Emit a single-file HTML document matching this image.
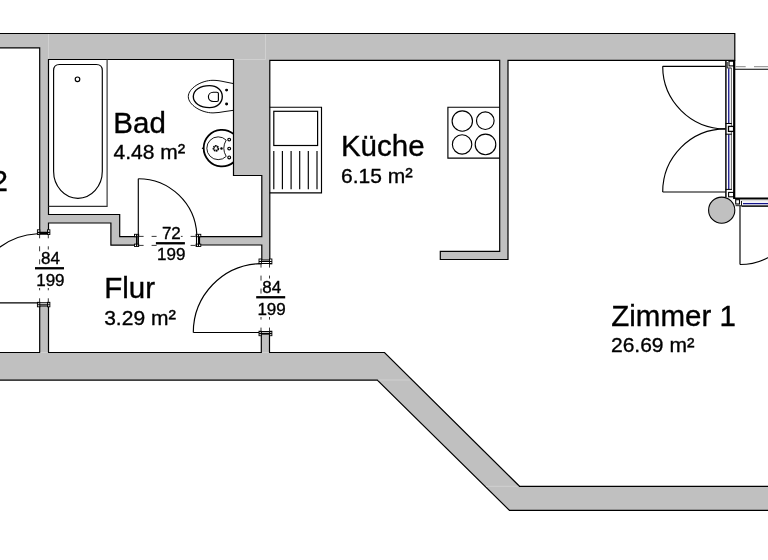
<!DOCTYPE html>
<html><head><meta charset="utf-8"><title>Grundriss</title>
<style>
html,body{margin:0;padding:0;background:#fff;}
body{width:768px;height:560px;overflow:hidden;}
svg{display:block;will-change:transform;}
text{font-family:"Liberation Sans",Arial,sans-serif;fill:#000;stroke:#000;stroke-width:0.35px;}
.w{fill:#c0c0c0;stroke:#000;stroke-width:1.2;stroke-linejoin:miter;}
.t{fill:none;stroke:#000;stroke-width:1.15;}
.k{fill:none;stroke:#000;stroke-width:1.35;}
.d{fill:none;stroke:#222;stroke-width:0.9;stroke-dasharray:5 8;}
.seam{stroke:#d4d4d4;stroke-width:0.8;fill:none;}
</style></head><body>
<svg width="768" height="560" viewBox="0 0 768 560">
<rect width="768" height="560" fill="#fff"/>

<!-- WALLS -->
<g class="w">
<!-- main outer + inner walls as one polygon set -->
<path d="M-5 33.5 H734.8 V60.3 H508 V259.5 H440.3 V251.4 H499.7 V60.3 H269.8 V260 H261.8 V245 H199.5 V236.7 H261.8 V175.5 H233.5 V59.5 H48.5 V214.5 H119.7 V236.7 H137 V245.2 H110.9 V223 H48.5 V233.5 H39.7 V47.8 H-5 Z"/>
<!-- bottom wall -->
<path d="M-5 352.5 H39.7 V306 H48.5 V352.5 H261.3 V334 H269.5 V352.5 H384.5 L519.5 486.3 H775 V510.4 H509.5 L377.3 380.1 H-5 Z"/>
</g>
<g class="seam">
<path d="M48.5 34 V59"/><path d="M265.5 34 V59.5 H235"/>
<path d="M378.5 380 H410"/><path d="M486 486.3 H518.5"/><path d="M262 352.5 H269"/><path d="M40.4 352.5 H48"/>
</g>

<!-- door jambs -->
<g fill="#fff" stroke="#000" stroke-width="0.9">
<rect x="259" y="259" width="2.4" height="4.9"/><rect x="269.5" y="259" width="2.4" height="4.9"/><path d="M259 261.5 H271.9 M259 263.5 H271.9" stroke-width="1.1"/>
<rect x="259" y="331.2" width="2.4" height="4.5"/><rect x="269.5" y="331.2" width="2.4" height="4.5"/><path d="M259 331.6 H271.9 M259 333.6 H271.9" stroke-width="1.1"/>
<rect x="37.4" y="229.8" width="2.4" height="4.7"/><rect x="47.5" y="229.8" width="2.4" height="4.7"/><path d="M37.4 232.4 H49.9 M37.4 234.2 H49.9" stroke-width="1.1"/>
<rect x="37.4" y="302.3" width="2.4" height="4.5"/><rect x="47.5" y="302.3" width="2.4" height="4.5"/><path d="M37.4 302.7 H49.9 M37.4 304.7 H49.9" stroke-width="1.1"/>
<rect x="134.5" y="234.3" width="4.2" height="2.4"/><rect x="134.5" y="244.1" width="4.2" height="2.4"/><path d="M136.6 234.3 V246.5 M138.4 234.3 V246.5" stroke-width="1.1"/>
<rect x="196.1" y="234.3" width="4.7" height="2.4"/><rect x="196.1" y="244.1" width="4.7" height="2.4"/><path d="M196.5 234.3 V246.5 M198.5 234.3 V246.5" stroke-width="1.1"/>
</g>

<!-- dashed opening lines -->
<g class="d">
<path d="M39.6 234.3 V302.5" stroke-dashoffset="1"/><path d="M48.3 234.3 V302.5" stroke-dashoffset="1"/>
<path d="M261 263.9 V331.5" stroke-dashoffset="1.3"/><path d="M269.5 263.9 V331.5" stroke-dashoffset="1.3"/>
<path d="M138.6 236.4 H196.4"/><path d="M138.6 245.4 H196.4"/>
</g>

<!-- door swings -->
<g class="t">
<path d="M37.5 302.8 H-5"/><path d="M37.4 233.8 A69 69 0 0 0 -28 302.7"/>
<path d="M259 332.5 H193.3"/><path d="M193.3 332.5 A69 69 0 0 1 259.5 263.6"/>
<path d="M138.3 236 V178.7"/><path d="M138.3 178.7 A58.6 58.6 0 0 1 196.8 234.6"/>
<path d="M725.5 66.3 H662.7"/><path d="M662.7 66.3 A62.8 62.6 0 0 0 725.5 128.9"/>
<path d="M725.5 192 H662.7"/><path d="M662.7 192 A62.8 63 0 0 1 725.5 128.9"/>
<path d="M740 206 V264.5"/><path d="M740 264.5 A58.5 58.5 0 0 0 798.5 206"/>
</g>

<!-- bathtub -->
<g class="t" stroke-width="0.8">
<path d="M48.5 206.3 H107.1 V59.5" stroke="#333"/>
<path d="M53.6 171.3 V70.5 Q53.6 64.5 59.6 64.5 H96.3 Q102.3 64.5 102.3 70.5 V171.3 A24.35 27 0 0 1 53.6 171.3 Z"/>
<circle cx="77.5" cy="79.3" r="2.3"/>
</g>

<!-- toilet -->
<g class="t">
<path stroke-width="0.95" d="M233.5 83.6 L225 81.9 C221 81 217 80.3 213 80.3 C201 80.3 188.3 88.5 188.3 96.6 C188.3 104.7 201 112.9 213 112.9 C217 112.9 221 112.2 225 111.5 L233.5 110.3"/>
<path class="k" d="M222.3 96.6 C222.3 103 217 107.6 209.5 107.6 C200 107.6 193.3 103 193.3 96.6 C193.3 90.2 200 85.6 209.5 85.6 C217 85.6 222.3 90.2 222.3 96.6 Z"/>
<path d="M218.4 93.6 V100 Q218.4 101.5 216.9 101.5 H213.2 C210.5 101.5 208.4 99.4 208.4 96.85 C208.4 94.3 210.5 92.2 213.2 92.2 H216.9 Q218.4 92.2 218.4 93.6 Z"/>
<circle cx="226.6" cy="90.1" r="0.9" fill="#000"/><circle cx="226.6" cy="104" r="0.9" fill="#000"/>
</g>

<!-- wash basin -->
<g class="t">
<path d="M233.5 133.9 A18.3 18.3 0 1 0 233.5 162.3" stroke-width="1.8"/>
<path d="M201.9 148.3 H203.3"/>
<path d="M226.2 140.1 A11.4 11.4 0 1 0 226.2 156.4 A16 16 0 0 1 226.2 140.1 Z" stroke-width="0.9"/>
<circle cx="215.9" cy="148.4" r="2.35" stroke-width="1.9" stroke-dasharray="1.4 0.45"/>
<circle cx="221.5" cy="148.4" r="0.7" fill="#000"/>
<circle cx="229.2" cy="139.6" r="1.4"/><circle cx="229.2" cy="148.6" r="1.4"/><circle cx="229.2" cy="157.4" r="1.4"/>
</g>

<!-- kitchen sink -->
<g class="t">
<path d="M269.8 107.2 H321.5 V192.9 H269.8"/>
<rect x="273.8" y="111.3" width="43.8" height="34.2" stroke-width="1.2"/>
<path d="M273.8 150.9 V189.3 M282.4 150.9 V189.3 M291.1 150.9 V189.3 M299.7 150.9 V189.3 M308.3 150.9 V189.3 M317 150.9 V189.3"/>
</g>

<!-- stove -->
<g class="t" stroke-width="1.1">
<path d="M499.7 107.2 H447.9 V158.1 H499.7"/>
<circle cx="462.3" cy="121" r="10.2"/><circle cx="485.3" cy="120.7" r="8.8"/>
<circle cx="462.1" cy="144.4" r="9.7"/><circle cx="485.5" cy="144.4" r="10.3"/>
</g>

<!-- window / balcony door -->
<g fill="none" stroke="#000">
<path d="M725.9 60.5 V197" stroke-width="1.45"/>
<path d="M734.2 60.5 V199" stroke-width="2.2"/>
<path d="M731.4 68 V190" stroke="#666" stroke-width="1"/>
<path d="M728.75 68.4 V123.5 M728.75 134.2 V189.4" stroke="#15158c" stroke-width="1.3"/>
<rect x="729" y="61.2" width="4.6" height="4.7" fill="#fff" stroke-width="1.1"/>
<path d="M727.2 62 V68 H731.5" stroke-width="0.9"/>
<rect x="728.5" y="126.4" width="5.1" height="5" fill="#fff" stroke-width="1.3"/>
<path d="M725.5 123.5 H731.8 M725.5 134.2 H731.8" stroke-width="1"/>
<path d="M725.5 189.4 H731.8" stroke-width="1"/>
<rect x="728.6" y="192.4" width="5" height="4.4" fill="#fff" stroke-width="1.1"/>
<path d="M735.5 66.7 H745.7 M754 66.7 H770" stroke="#888" stroke-width="1"/>
<path d="M734.5 69.3 H770" stroke-width="1.1"/>
<!-- horizontal window -->
<path d="M735 198.5 H770" stroke-width="2"/>
<path d="M741.5 206.1 H770" stroke-width="1.5"/>
<path d="M743 203.6 H770" stroke="#15158c" stroke-width="1.3"/>
<path d="M741 200.8 H770" stroke="#bbb" stroke-width="0.7"/>
<rect x="735.7" y="199.7" width="3.8" height="4.3" fill="#fff" stroke-width="1.1"/>
<path d="M735.5 205.7 H741.5 V201" stroke-width="0.9"/>
</g>
<circle cx="721.7" cy="210.2" r="13.1" fill="#c0c0c0" stroke="#000" stroke-width="1.1"/>

<!-- door labels -->
<g font-size="17">
<rect x="41.5" y="249.5" width="18.5" height="17" fill="#fff" stroke="none"/><rect x="37.3" y="270" width="27.4" height="18" fill="#fff" stroke="none"/><text x="41" y="263.8">84</text><rect x="35" y="267.1" width="29" height="2.3" stroke="none"/><text x="36.2" y="285.8">199</text>
<rect x="262.7" y="278.5" width="18.5" height="17" fill="#fff" stroke="none"/><rect x="258.5" y="299" width="27.4" height="18" fill="#fff" stroke="none"/><text x="262.2" y="292.8">84</text><rect x="256.2" y="296.1" width="29" height="2.3" stroke="none"/><text x="257.4" y="314.8">199</text>
<rect x="162.4" y="224.5" width="18.5" height="17" fill="#fff" stroke="none"/><rect x="158.2" y="245" width="27.4" height="18" fill="#fff" stroke="none"/><text x="161.9" y="238.8">72</text><rect x="155.9" y="242.1" width="29" height="2.3" stroke="none"/><text x="157.1" y="260">199</text>
</g>

<!-- room labels -->
<g font-size="29.5">
<text x="113.3" y="132.7">Bad</text>
<text x="340.9" y="155.6">Küche</text>
<text x="104.2" y="298.3">Flur</text>
<text x="611.3" y="326.1">Zimmer 1</text>
<text x="-8.4" y="190.6">2</text>
</g>
<g font-size="21">
<text x="113.6" y="158.5">4.48 m<tspan font-size="22.5" dy="0.8">²</tspan></text>
<text x="341" y="182.6">6.15 m<tspan font-size="22.5" dy="0.8">²</tspan></text>
<text x="104.2" y="324.5">3.29 m<tspan font-size="22.5" dy="0.8">²</tspan></text>
<text x="611" y="352.3">26.69 m<tspan font-size="22.5" dy="0.8">²</tspan></text>
</g>
</svg>
</body></html>
